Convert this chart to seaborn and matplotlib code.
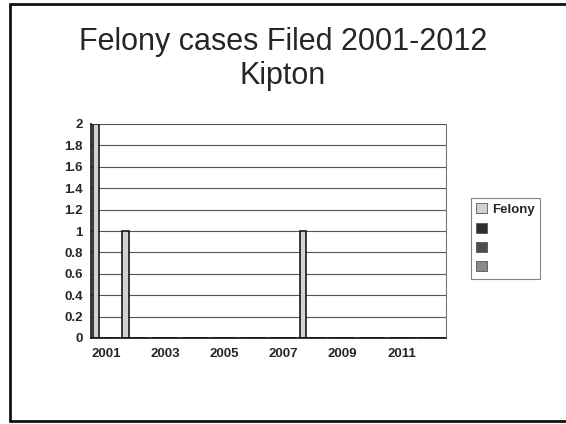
import numpy as np
import pandas as pd
import matplotlib
matplotlib.use('Agg')
import matplotlib.pyplot as plt
from matplotlib.patches import Patch
from matplotlib.lines import Line2D
import seaborn as sns

# chart data
years = ['2001', '2002', '2003', '2004', '2005', '2006',
         '2007', '2008', '2009', '2010', '2011', '2012']
felony = [2, 1, 0, 0, 0, 0, 0, 1, 0, 0, 0, 0]
series_names = ['Felony', 'S2', 'S3', 'S4']
legend_labels = ['Felony', '', '', '']
y_ticks = [0, 0.2, 0.4, 0.6, 0.8, 1, 1.2, 1.4, 1.6, 1.8, 2]
y_tick_labels = ['0', '0.2', '0.4', '0.6', '0.8', '1', '1.2', '1.4', '1.6', '1.8', '2']
x_label_years = ['2001', '2003', '2005', '2007', '2009', '2011']

# long table: the three extra series are empty
rows = []
for name in series_names:
    for i, yr in enumerate(years):
        rows.append({'year': yr, 'series': name,
                     'value': felony[i] if name == 'Felony' else 0})
df = pd.DataFrame(rows)

colors = {'Felony': '#d2d2d2', 'S2': '#2e2e2e', 'S3': '#4e4e4e', 'S4': '#8a8a8a'}

sns.set_style('white')
plt.rcParams['font.family'] = ['Liberation Sans', 'DejaVu Sans']

fig = plt.figure(figsize=(5.66, 4.24), dpi=100)
ax = fig.add_axes([91 / 566, 1 - 338 / 424, 355 / 566, 214 / 424])

sns.barplot(data=df, x='year', y='value', hue='series',
            hue_order=series_names, order=years, palette=colors,
            width=0.88, errorbar=None, legend=False,
            edgecolor='#1a1a1a', linewidth=1.2, ax=ax)

# axes limits and grid
ax.set_xlim(-0.5, len(years) - 0.5)
ax.set_ylim(0, 2)
ax.set_yticks(y_ticks)
ax.set_yticklabels(y_tick_labels, fontsize=9.5, fontweight='bold')
ax.yaxis.grid(True, color='#555555', linewidth=0.8)
ax.set_axisbelow(True)

# ticks at category boundaries, labels on odd years
ax.set_xticks(np.arange(-0.5, len(years), 1.0))
ax.set_xticklabels([])
label_pos = [years.index(y) for y in x_label_years]
ax.set_xticks(label_pos, minor=True)
ax.set_xticklabels(x_label_years, minor=True, fontsize=9.5, fontweight='bold')
ax.tick_params(axis='x', which='major', direction='out', length=4, width=0.8, color='#333333')
ax.tick_params(axis='x', which='minor', length=0, pad=7)
ax.tick_params(axis='y', direction='out', length=4, width=0.8, color='#333333', pad=2)
ax.set_xlabel('')
ax.set_ylabel('')

for side in ['left', 'bottom']:
    ax.spines[side].set_color('#111111')
    ax.spines[side].set_linewidth(1.2)
ax.spines['right'].set_color('#777777')
ax.spines['right'].set_linewidth(0.8)
ax.spines['top'].set_visible(False)

# title
fig.text(283 / 566, 1 - 59 / 424, 'Felony cases Filed 2001-2012\nKipton',
         ha='center', va='center', fontsize=22, linespacing=1.15)

# legend
handles = [Patch(facecolor=colors[n], edgecolor='#555555', linewidth=0.6)
           for n in series_names]
leg = fig.legend(handles, legend_labels, loc='upper left',
                 bbox_to_anchor=(471 / 566, 1 - 198 / 424), borderaxespad=0,
                 frameon=True, fancybox=False, handlelength=0.8,
                 handleheight=0.8, handletextpad=0.4, labelspacing=0.5,
                 borderpad=0.4, prop={'size': 9.5, 'weight': 'bold'})
leg.get_frame().set_edgecolor('#666666')
leg.get_frame().set_linewidth(0.8)

# outer frame
frame_kw = dict(color='#111111', linewidth=2, transform=fig.transFigure)
fig.add_artist(Line2D([10 / 566, 10 / 566], [1 - 4 / 424, 1 - 421 / 424], **frame_kw))
fig.add_artist(Line2D([10 / 566, 1], [1 - 4 / 424, 1 - 4 / 424], **frame_kw))
fig.add_artist(Line2D([10 / 566, 1], [1 - 421 / 424, 1 - 421 / 424], **frame_kw))

fig.savefig('out.png', dpi=100)
